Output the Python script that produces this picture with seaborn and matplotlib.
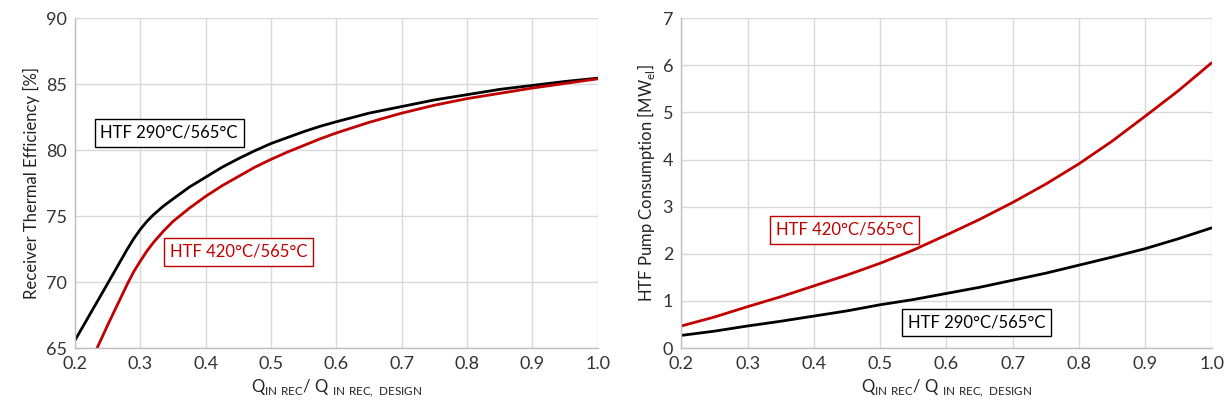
import numpy as np
import pandas as pd
import seaborn as sns
import matplotlib.pyplot as plt

sns.set_style("whitegrid")
plt.rcParams['font.family'] = ['Lato', 'DejaVu Sans']
plt.rcParams['mathtext.fontset'] = 'custom'
plt.rcParams['mathtext.rm'] = 'Lato'

RED = '#C00000'
label_290 = 'HTF 290°C/565°C'
label_420 = 'HTF 420°C/565°C'

# receiver thermal efficiency [%]
eff_x_290 = [0.2, 0.225, 0.25, 0.265, 0.28, 0.29, 0.3, 0.31, 0.32, 0.335, 0.35, 0.375,
             0.4, 0.425, 0.45, 0.475, 0.5, 0.525, 0.55, 0.575, 0.6, 0.65, 0.7, 0.75,
             0.8, 0.85, 0.9, 0.95, 1.0]
eff_290 = [65.6, 67.75, 69.9, 71.2, 72.5, 73.3, 74.0, 74.6, 75.1, 75.75, 76.3, 77.2,
           77.95, 78.7, 79.35, 79.95, 80.5, 80.95, 81.4, 81.8, 82.15, 82.8, 83.3, 83.8,
           84.2, 84.6, 84.9, 85.2, 85.45]
eff_x_420 = [0.23, 0.25, 0.265, 0.28, 0.29, 0.3, 0.31, 0.32, 0.335, 0.35, 0.375,
             0.4, 0.425, 0.45, 0.475, 0.5, 0.525, 0.55, 0.575, 0.6, 0.65, 0.7, 0.75,
             0.8, 0.85, 0.9, 0.95, 1.0]
eff_420 = [64.6, 66.75, 68.3, 69.85, 70.8, 71.6, 72.35, 73.0, 73.85, 74.6, 75.6,
           76.5, 77.3, 78.0, 78.7, 79.3, 79.85, 80.35, 80.85, 81.3, 82.1, 82.8, 83.4,
           83.9, 84.3, 84.7, 85.05, 85.4]

# HTF pump consumption [MWel]
pump_x = [0.2, 0.25, 0.3, 0.35, 0.4, 0.45, 0.5, 0.55, 0.6, 0.65, 0.7, 0.75, 0.8, 0.85, 0.9, 0.95, 1.0]
pump_290 = [0.27, 0.36, 0.47, 0.57, 0.68, 0.79, 0.92, 1.03, 1.16, 1.29, 1.44, 1.59, 1.76, 1.93, 2.11, 2.32, 2.55]
pump_420 = [0.47, 0.66, 0.88, 1.09, 1.32, 1.55, 1.80, 2.08, 2.40, 2.73, 3.09, 3.48, 3.91, 4.39, 4.92, 5.46, 6.05]

x_ticks = [0.2, 0.3, 0.4, 0.5, 0.6, 0.7, 0.8, 0.9, 1.0]
x_label = r'Q$_{\mathregular{IN\ REC}}$/ Q $_{\mathregular{IN\ REC,\ DESIGN}}$'

fig = plt.figure(figsize=(12.3, 4.11), dpi=100)
ax1 = fig.add_axes([0.061, 0.153, 0.425, 0.803])
ax2 = fig.add_axes([0.554, 0.153, 0.431, 0.803])

sns.lineplot(x=eff_x_290, y=eff_290, ax=ax1, color='black', lw=2)
sns.lineplot(x=eff_x_420, y=eff_420, ax=ax1, color=RED, lw=2)
sns.lineplot(x=pump_x, y=pump_290, ax=ax2, color='black', lw=2)
sns.lineplot(x=pump_x, y=pump_420, ax=ax2, color=RED, lw=2)

ax1.set_ylim(65, 90)
ax1.set_yticks([65, 70, 75, 80, 85, 90])
ax1.set_ylabel('Receiver Thermal Efficiency [%]', fontsize=12, color='#222222')
ax2.set_ylim(0, 7)
ax2.set_yticks(range(0, 8))
ax2.set_ylabel(r'HTF Pump Consumption [MW$_{\mathregular{el}}$]', fontsize=12, color='#222222')

for ax in (ax1, ax2):
    ax.set_xlim(0.2, 1.0)
    ax.set_xticks(x_ticks)
    ax.set_xticklabels([f'{v:.1f}' for v in x_ticks])
    ax.set_xlabel(x_label, fontsize=12, color='#222222')
    ax.tick_params(labelsize=13, colors='#333333', length=0, pad=6)
    ax.grid(color='#d9d9d9', lw=1)
    for s in ['top', 'right']:
        ax.spines[s].set_visible(False)
    for s in ['left', 'bottom']:
        ax.spines[s].set_color('#bfbfbf')
        ax.spines[s].set_linewidth(1)

def box(ax, x, y, txt, c):
    ax.text(x, y, txt, ha='center', va='center', fontsize=12, color=c,
            bbox=dict(boxstyle='square,pad=0.35', fc='white', ec=c, lw=1))

box(ax1, 0.344, 81.3, label_290, 'black')
box(ax1, 0.45, 72.3, label_420, RED)
box(ax2, 0.446, 2.51, label_420, RED)
box(ax2, 0.645, 0.54, label_290, 'black')

fig.savefig('out.png', dpi=100)
